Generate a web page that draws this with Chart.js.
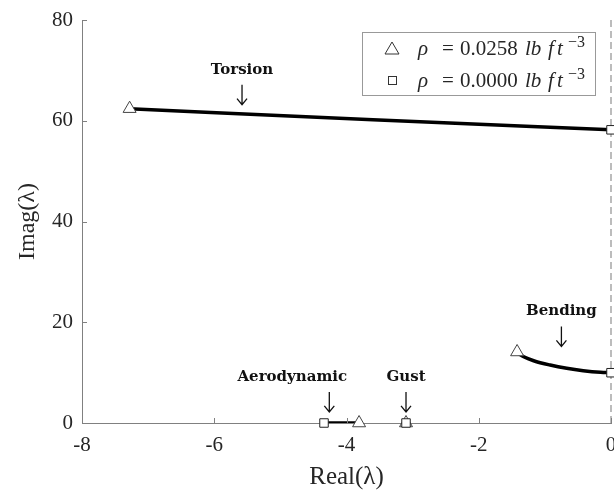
<!DOCTYPE html>
<html>
<head>
<meta charset="utf-8">
<script src="https://cdn.jsdelivr.net/npm/chart.js@4.4.1/dist/chart.umd.min.js"></script>
<style>
  html, body { margin: 0; padding: 0; background: #fff; overflow: hidden; }
  #wrap { width: 614px; height: 492px; }
</style>
</head>
<body>
<div id="wrap"><canvas id="chart"></canvas></div>
<script>
// axis ticks
const xTicks = [-8, -6, -4, -2, 0];
const yTicks = [0, 20, 40, 60, 80];

// root loci branches (real, imag)
const torsionX = [-7.28, -3.6, 0];
const torsionY = [62.4, 60.2, 58.2];
const bendingX = [-1.42, -1.32, -1.17, -0.92, -0.67, -0.42, -0.16, 0];
const bendingY = [14.0, 13.15, 12.36, 11.5, 10.85, 10.38, 10.06, 9.98];
const aeroX = [-4.34, -3.81];
const aeroY = [0, 0];
const gustX = [-3.10, -3.10];
const gustY = [0, 0];

// branch end points: rho = 0.0258 (triangles) and rho = 0 (squares)
const rhoHighX = [-7.28, -1.42, -3.81, -3.10];
const rhoHighY = [62.4, 14.1, 0, 0];
const rhoZeroX = [0, 0, -4.34, -3.10];
const rhoZeroY = [58.2, 9.98, 0, 0];

// mode annotations
const modeNames = ["Torsion", "Bending", "Aerodynamic", "Gust"];
const modeLabelX = [-5.58, -0.75, -4.82, -3.10];
const modeArrowX = [-5.58, -0.75, -4.26, -3.10];
const modeArrowTipY = [63.2, 15.2, 2.2, 2.2];

const toPts = (xs, ys) => xs.map((x, i) => ({ x: x, y: ys[i] }));

const SERIF = "'Liberation Serif', 'DejaVu Serif', serif";
const TXT = "#262626";
const AXIS = "#808080";

const lineSet = (xs, ys) => ({
  data: toPts(xs, ys),
  showLine: true,
  borderColor: "#000",
  borderWidth: 3.5,
  pointRadius: 0,
  cubicInterpolationMode: "monotone",
  order: 2
});

const chartDecor = {
  id: "chartDecor",
  beforeDatasetsDraw(chart) {
    const { ctx, chartArea: a, scales: { x } } = chart;
    ctx.save();
    // dashed imaginary axis at Real = 0
    ctx.strokeStyle = "#999";
    ctx.lineWidth = 1.3;
    ctx.setLineDash([7, 4]);
    const x0 = x.getPixelForValue(0);
    ctx.beginPath();
    ctx.moveTo(x0, a.top);
    ctx.lineTo(x0, a.bottom);
    ctx.stroke();
    ctx.restore();
  },
  afterDraw(chart) {
    const { ctx, chartArea: a, scales: { x, y } } = chart;
    ctx.save();
    // inward tick marks and tick labels (labels may run past the canvas edge)
    ctx.strokeStyle = AXIS;
    ctx.lineWidth = 1;
    ctx.fillStyle = TXT;
    ctx.font = "21px " + SERIF;
    ctx.textBaseline = "middle";
    ctx.textAlign = "center";
    xTicks.forEach(v => {
      const px = Math.round(x.getPixelForValue(v)) + 0.5;
      ctx.beginPath();
      ctx.moveTo(px, a.bottom);
      ctx.lineTo(px, a.bottom - 5);
      ctx.stroke();
      ctx.fillText(String(v), x.getPixelForValue(v), a.bottom + 22);
    });
    ctx.textAlign = "right";
    yTicks.forEach(v => {
      const py = Math.round(y.getPixelForValue(v)) + 0.5;
      ctx.beginPath();
      ctx.moveTo(a.left, py);
      ctx.lineTo(a.left + 5, py);
      ctx.stroke();
      ctx.fillText(String(v), a.left - 9, y.getPixelForValue(v));
    });

    // mode labels with arrows
    ctx.fillStyle = "#111";
    ctx.strokeStyle = "#111";
    ctx.font = "bold 15px 'DejaVu Serif', serif";
    ctx.textAlign = "center";
    ctx.textBaseline = "middle";
    modeNames.forEach((name, i) => {
      const ax = x.getPixelForValue(modeArrowX[i]);
      const tip = y.getPixelForValue(modeArrowTipY[i]);
      const lx = x.getPixelForValue(modeLabelX[i]);
      ctx.fillText(name, lx, tip - 35);
      ctx.lineWidth = 1.3;
      ctx.beginPath();
      ctx.moveTo(ax, tip - 20);
      ctx.lineTo(ax, tip);
      ctx.moveTo(ax - 5, tip - 6);
      ctx.lineTo(ax, tip);
      ctx.lineTo(ax + 5, tip - 6);
      ctx.stroke();
    });

    // legend box
    const bx = a.right - 249, by = a.top + 12, bw = 233, bh = 63;
    ctx.fillStyle = "#fff";
    ctx.fillRect(bx, by, bw, bh);
    ctx.strokeStyle = "#999";
    ctx.lineWidth = 1;
    ctx.strokeRect(bx + 0.5, by + 0.5, bw, bh);

    const rows = [
      { val: "0.0258", style: "triangle" },
      { val: "0.0000", style: "rect" }
    ];
    rows.forEach((r, i) => {
      const cy = by + 16 + i * 32;
      const mx = bx + 30;
      ctx.strokeStyle = "#333";
      ctx.fillStyle = "#fff";
      ctx.lineWidth = 1;
      if (r.style === "triangle") {
        ctx.beginPath();
        ctx.moveTo(mx, cy - 6);
        ctx.lineTo(mx + 7, cy + 6);
        ctx.lineTo(mx - 7, cy + 6);
        ctx.closePath();
        ctx.fill();
        ctx.stroke();
      } else {
        ctx.fillRect(mx - 4, cy - 4, 8, 8);
        ctx.strokeRect(mx - 4 + 0.5, cy - 4 + 0.5, 8, 8);
      }
      const segs = [
        { t: "\u03C1", f: "italic 21px " + SERIF, at: 56 },
        { t: "=", f: "21px " + SERIF, at: 80 },
        { t: r.val, f: "21px " + SERIF, at: 98 },
        { t: "lb", f: "italic 21px " + SERIF, at: 163 },
        { t: "f", f: "italic 21px " + SERIF, at: 186 },
        { t: "t", f: "italic 21px " + SERIF, at: 195 },
        { t: "\u22123", f: "16px " + SERIF, at: 206, sup: true }
      ];
      ctx.fillStyle = TXT;
      ctx.textAlign = "left";
      ctx.textBaseline = "alphabetic";
      segs.forEach(s => {
        ctx.font = s.f;
        ctx.fillText(s.t, bx + s.at, s.sup ? cy - 1 : cy + 7);
      });
    });
    ctx.restore();
  }
};

new Chart(document.getElementById("chart"), {
  type: "scatter",
  data: {
    datasets: [
      lineSet(torsionX, torsionY),
      lineSet(bendingX, bendingY),
      lineSet(aeroX, aeroY),
      lineSet(gustX, gustY),
      {
        data: toPts(rhoHighX, rhoHighY),
        pointStyle: "triangle",
        pointRadius: 7.5,
        backgroundColor: "#fff",
        borderColor: "#444",
        borderWidth: 1,
        clip: false,
        order: 1
      },
      {
        data: toPts(rhoZeroX, rhoZeroY),
        pointStyle: "rect",
        pointRadius: 6,
        backgroundColor: "#fff",
        borderColor: "#222",
        borderWidth: 1,
        clip: false,
        order: 0
      }
    ]
  },
  options: {
    responsive: true,
    maintainAspectRatio: false,
    animation: false,
    layout: { autoPadding: false, padding: { top: 20, right: 3, left: 0, bottom: 0 } },
    plugins: {
      legend: { display: false },
      tooltip: { enabled: false }
    },
    scales: {
      x: {
        type: "linear",
        min: -8,
        max: 0,
        afterBuildTicks: s => { s.ticks = xTicks.map(v => ({ value: v })); },
        afterFit: s => { s.height = 69; },
        grid: { display: false, drawTicks: false },
        border: { color: AXIS, width: 1 },
        ticks: { display: false },
        title: {
          display: true,
          text: "Real(\u03BB)",
          color: TXT,
          font: { family: SERIF, size: 25 },
          padding: { top: 0, bottom: 0 }
        }
      },
      y: {
        type: "linear",
        min: 0,
        max: 80,
        afterBuildTicks: s => { s.ticks = yTicks.map(v => ({ value: v })); },
        afterFit: s => { s.width = 82; },
        grid: { display: false, drawTicks: false },
        border: { color: AXIS, width: 1 },
        ticks: { display: false },
        title: {
          display: true,
          text: "Imag(\u03BB)",
          color: TXT,
          font: { family: SERIF, size: 24 },
          padding: { top: 13, bottom: 0 }
        }
      }
    }
  },
  plugins: [chartDecor]
});
</script>
</body>
</html>
